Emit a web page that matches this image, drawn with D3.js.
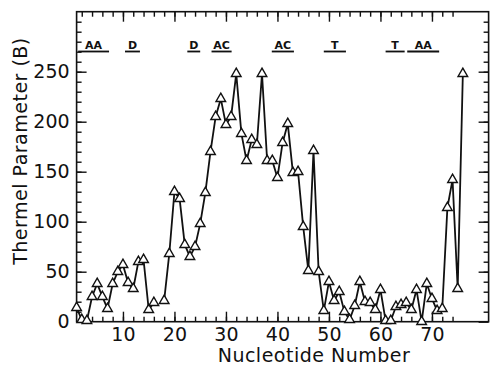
<!DOCTYPE html>
<html>
<head>
<meta charset="utf-8">
<script src="https://cdn.jsdelivr.net/npm/d3@7"></script>
<style>
  body { margin: 0; background: #fff; }
  svg text { font-family: "DejaVu Sans", sans-serif; fill: #111; }
</style>
</head>
<body>
<svg id="chart" width="491" height="369"></svg>
<script>
// nucleotide positions 1..76 (17 has no value)
const nucleotides = d3.range(1, 77);
const thermel = [
  14, 2, 1, 25, 38, 25, 13, 38, 50, 57,
  39, 33, 60, 62, 12, 19, null, 21, 68, 130,
  123, 77, 65, 75, 98, 129, 170, 205, 223, 197,
  205, 248, 188, 161, 182, 177, 248, 161, 161, 144,
  179, 198, 149, 150, 95, 51, 171, 50, 11, 40,
  21, 30, 10, 2, 16, 40, 20, 19, 12, 32,
  1, 1, 15, 17, 19, 12, 32, 0, 38, 23,
  11, 13, 114, 142, 33, 248
];

// underlined region labels at the top
const regionLabels = ['AA', 'D', 'D', 'AC', 'AC', 'T', 'T', 'AA'];
const regionStart = [1.3, 10.4, 22.5, 27.2, 38.9, 49, 61, 65.2];
const regionEnd = [7.3, 13.3, 25, 31.1, 43.2, 53.3, 64.7, 71.4];

const xMajor = [10, 20, 30, 40, 50, 60, 70];
const xMinor = d3.range(2, 76, 2);
const yMajor = [0, 50, 100, 150, 200, 250];
const yMinor = d3.range(10, 310, 10);

const svg = d3.select('#chart');
const x = d3.scaleLinear().domain([1, 81]).range([76.6, 488.6]);
const y = d3.scaleLinear().domain([0, 310]).range([321.7, 11.7]);

const plotL = x.range()[0], plotR = x.range()[1];
const plotB = y.range()[0], plotT = y.range()[1];

// frame
svg.append('rect')
  .attr('x', plotL).attr('y', plotT)
  .attr('width', plotR - plotL).attr('height', plotB - plotT)
  .attr('fill', 'none').attr('stroke', '#111').attr('stroke-width', 1.6);

function styleAxis(g) {
  g.select('.domain').remove();
  g.selectAll('line').attr('stroke', '#111').attr('stroke-width', 1.4);
}

// bottom axis: minor ticks, then major ticks with labels
svg.append('g').attr('transform', `translate(0,${plotB})`)
  .call(d3.axisBottom(x).tickValues(xMinor).tickSize(-5).tickFormat(''))
  .call(styleAxis);
svg.append('g').attr('transform', `translate(0,${plotB})`)
  .call(d3.axisBottom(x).tickValues(xMajor).tickSize(-10).tickPadding(6).tickFormat(d3.format('d')))
  .call(styleAxis)
  .selectAll('text').attr('font-size', 19).attr('fill', '#111');

// top axis
svg.append('g').attr('transform', `translate(0,${plotT})`)
  .call(d3.axisTop(x).tickValues(xMinor).tickSize(-5).tickFormat(''))
  .call(styleAxis);
svg.append('g').attr('transform', `translate(0,${plotT})`)
  .call(d3.axisTop(x).tickValues(xMajor).tickSize(-10).tickFormat(''))
  .call(styleAxis);

// left axis
svg.append('g').attr('transform', `translate(${plotL},0)`)
  .call(d3.axisLeft(y).tickValues(yMinor).tickSize(-5).tickFormat(''))
  .call(styleAxis);
svg.append('g').attr('transform', `translate(${plotL},0)`)
  .call(d3.axisLeft(y).tickValues(yMajor).tickSize(-10).tickPadding(7).tickFormat(d3.format('d')))
  .call(styleAxis)
  .selectAll('text').attr('font-size', 19).attr('fill', '#111');

// right axis
svg.append('g').attr('transform', `translate(${plotR},0)`)
  .call(d3.axisRight(y).tickValues(yMinor).tickSize(-5).tickFormat(''))
  .call(styleAxis);
svg.append('g').attr('transform', `translate(${plotR},0)`)
  .call(d3.axisRight(y).tickValues(yMajor).tickSize(-10).tickFormat(''))
  .call(styleAxis);

// data line
const pts = nucleotides.map((n, i) => ({ n, v: thermel[i] }));
const line = d3.line()
  .defined(d => d.v !== null)
  .x(d => x(d.n))
  .y(d => y(d.v));

svg.append('path')
  .datum(pts)
  .attr('d', line)
  .attr('fill', 'none')
  .attr('stroke', '#111')
  .attr('stroke-width', 1.8);

svg.append('g').selectAll('path')
  .data(pts.filter(d => d.v !== null))
  .join('path')
  .attr('d', d3.symbol(d3.symbolTriangle, 40))
  .attr('transform', d => `translate(${x(d.n)},${y(d.v)})`)
  .attr('fill', '#fff')
  .attr('stroke', '#111')
  .attr('stroke-width', 1.4);

// region annotations
const regions = svg.append('g');
regionLabels.forEach((lab, i) => {
  const x0 = x(regionStart[i]), x1 = x(regionEnd[i]);
  regions.append('line')
    .attr('x1', x0).attr('x2', x1)
    .attr('y1', 51.5).attr('y2', 51.5)
    .attr('stroke', '#111').attr('stroke-width', 1.8);
  regions.append('text')
    .attr('x', (x0 + x1) / 2).attr('y', 48.5)
    .attr('text-anchor', 'middle')
    .attr('font-size', 11).attr('font-weight', 'bold')
    .text(lab);
});

// axis titles
svg.append('text')
  .attr('x', 314).attr('y', 362)
  .attr('text-anchor', 'middle')
  .attr('font-size', 19).attr('letter-spacing', 0.5)
  .text('Nucleotide Number');

svg.append('text')
  .attr('transform', 'translate(27,151) rotate(-90)')
  .attr('text-anchor', 'middle')
  .attr('font-size', 19).attr('letter-spacing', 0.5)
  .text('Thermel Parameter (B)');
</script>
</body>
</html>
